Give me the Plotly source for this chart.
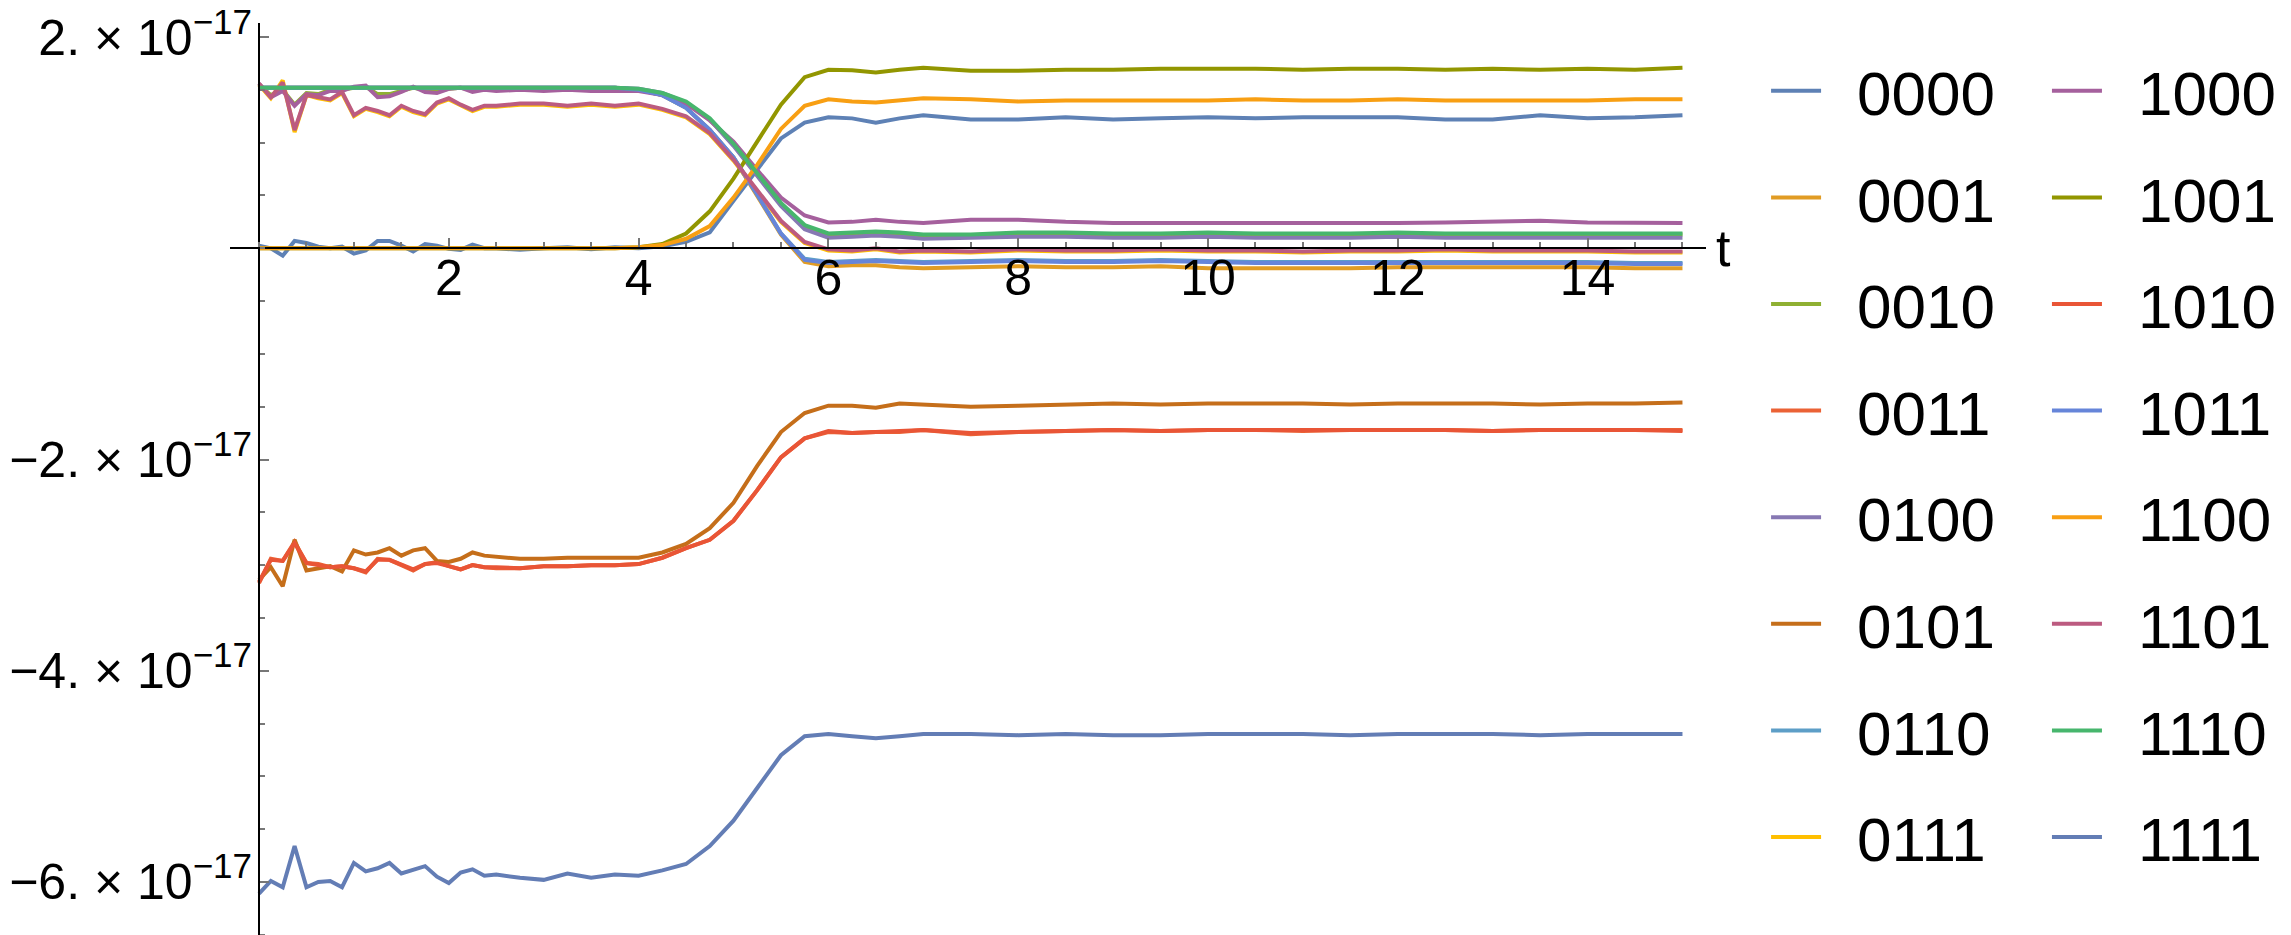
import plotly.graph_objects as go

# sample times
t = [0, 0.125, 0.25, 0.375, 0.5, 0.625, 0.75, 0.875, 1.0, 1.125, 1.25, 1.375, 1.5, 1.625,
     1.75, 1.875, 2.0, 2.125, 2.25, 2.375, 2.5,
     2.75, 3.0, 3.25, 3.5, 3.75, 4.0, 4.25, 4.5, 4.75, 5.0, 5.25, 5.5, 5.75, 6.0, 6.25,
     6.5, 6.75, 7.0,
     7.5, 8.0, 8.5, 9.0, 9.5, 10.0, 10.5, 11.0, 11.5, 12.0, 12.5, 13.0, 13.5, 14.0, 14.5, 15.0]

# values in units of 1e-17
s0000 = [0.025, 0.0, -0.07, 0.07, 0.05, 0.015, 0.0, 0.015, -0.05, -0.02, 0.07, 0.07, 0.025, -0.03,
         0.04, 0.025, -0.005, -0.015, 0.035, 0.0, 0.0,
         -0.015, 0.0, 0.01, -0.01, 0.01, 0.0, 0.02, 0.06, 0.15, 0.45, 0.74, 1.04, 1.19, 1.24, 1.23,
         1.19, 1.23, 1.26,
         1.22, 1.22, 1.24, 1.22, 1.23, 1.24, 1.23, 1.24, 1.24, 1.24, 1.22, 1.22, 1.26, 1.23, 1.24, 1.26]
s0001 = [1.52, 1.52, 1.52, 1.52, 1.52, 1.52, 1.52, 1.52, 1.52, 1.52, 1.52, 1.52, 1.52, 1.52,
         1.52, 1.52, 1.52, 1.52, 1.52, 1.52, 1.52,
         1.52, 1.52, 1.52, 1.52, 1.52, 1.50, 1.45, 1.33, 1.12, 0.86, 0.50, 0.13, -0.13, -0.17, -0.16,
         -0.16, -0.18, -0.19,
         -0.18, -0.17, -0.18, -0.18, -0.17, -0.19, -0.19, -0.19, -0.19, -0.18, -0.18, -0.18, -0.18,
         -0.18, -0.19, -0.19]
s0010 = [1.55, 1.45, 1.50, 1.36, 1.47, 1.46, 1.50, 1.50, 1.52, 1.53, 1.46, 1.46, 1.49, 1.52,
         1.50, 1.49, 1.51, 1.52, 1.50, 1.51, 1.50,
         1.51, 1.51, 1.51, 1.51, 1.51, 1.50, 1.46, 1.38, 1.22, 0.98, 0.70, 0.42, 0.21, 0.13, 0.14,
         0.15, 0.14, 0.12,
         0.12, 0.14, 0.14, 0.13, 0.13, 0.14, 0.13, 0.13, 0.13, 0.14, 0.13, 0.13, 0.13, 0.13, 0.13, 0.13]
s0011 = [-3.17, -2.94, -2.96, -2.78, -2.98, -2.99, -3.02, -3.01, -3.03, -3.07, -2.94, -2.95, -3.00,
         -3.05, -2.99, -2.97, -3.01, -3.04, -3.00, -3.02, -3.03,
         -3.03, -3.01, -3.01, -3.00, -3.00, -2.99, -2.93, -2.84, -2.76, -2.58, -2.29, -1.98, -1.80,
         -1.74, -1.75, -1.74, -1.74, -1.72,
         -1.76, -1.74, -1.73, -1.72, -1.73, -1.72, -1.72, -1.73, -1.72, -1.72, -1.72, -1.73, -1.72,
         -1.72, -1.72, -1.72]
s0100 = [1.52, 1.52, 1.52, 1.52, 1.52, 1.52, 1.52, 1.52, 1.52, 1.52, 1.52, 1.52, 1.52, 1.52,
         1.52, 1.52, 1.52, 1.52, 1.52, 1.52, 1.52,
         1.52, 1.52, 1.52, 1.52, 1.52, 1.51, 1.47, 1.38, 1.22, 0.97, 0.68, 0.40, 0.18, 0.10, 0.11,
         0.12, 0.11, 0.09,
         0.10, 0.11, 0.11, 0.10, 0.10, 0.11, 0.10, 0.10, 0.10, 0.11, 0.10, 0.10, 0.10, 0.10, 0.10, 0.10]
s0101 = [-3.14, -3.02, -3.20, -2.76, -3.05, -3.03, -3.01, -3.06, -2.86, -2.90, -2.88, -2.84, -2.91,
         -2.86, -2.84, -2.96, -2.97, -2.94, -2.88, -2.91, -2.92,
         -2.94, -2.94, -2.93, -2.93, -2.93, -2.93, -2.88, -2.80, -2.65, -2.41, -2.06, -1.74, -1.56,
         -1.49, -1.49, -1.51, -1.47, -1.48,
         -1.50, -1.49, -1.48, -1.47, -1.48, -1.47, -1.47, -1.47, -1.48, -1.47, -1.47, -1.47, -1.48,
         -1.47, -1.47, -1.46]
s0110 = [1.52, 1.52, 1.52, 1.52, 1.52, 1.52, 1.52, 1.52, 1.52, 1.52, 1.52, 1.52, 1.52, 1.52,
         1.52, 1.52, 1.52, 1.52, 1.52, 1.52, 1.52,
         1.52, 1.52, 1.52, 1.52, 1.52, 1.50, 1.45, 1.33, 1.12, 0.86, 0.51, 0.14, -0.10, -0.13, -0.12,
         -0.11, -0.12, -0.13,
         -0.12, -0.11, -0.12, -0.12, -0.11, -0.12, -0.13, -0.13, -0.13, -0.13, -0.13, -0.13, -0.13,
         -0.13, -0.14, -0.14]
s0111 = [1.55, 1.42, 1.59, 1.10, 1.45, 1.42, 1.40, 1.47, 1.25, 1.32, 1.29, 1.25, 1.34, 1.29,
         1.26, 1.37, 1.41, 1.35, 1.30, 1.34, 1.34,
         1.36, 1.36, 1.34, 1.36, 1.34, 1.36, 1.31, 1.24, 1.08, 0.83, 0.54, 0.25, 0.05, -0.02, -0.03,
         -0.01, -0.04, -0.03,
         -0.04, -0.02, -0.03, -0.03, -0.02, -0.03, -0.03, -0.04, -0.03, -0.03, -0.02, -0.03, -0.03,
         -0.03, -0.04, -0.04]
s1000 = [1.56, 1.43, 1.49, 1.35, 1.46, 1.45, 1.49, 1.49, 1.53, 1.54, 1.43, 1.44, 1.48, 1.53,
         1.48, 1.47, 1.51, 1.52, 1.48, 1.50, 1.49,
         1.50, 1.49, 1.50, 1.49, 1.49, 1.49, 1.45, 1.37, 1.21, 1.01, 0.74, 0.48, 0.31, 0.245, 0.25,
         0.27, 0.25, 0.24,
         0.27, 0.27, 0.25, 0.24, 0.24, 0.24, 0.235, 0.24, 0.24, 0.24, 0.245, 0.25, 0.26, 0.245, 0.24, 0.24]
s1001 = [0.0, 0.0, 0.0, 0.0, 0.0, 0.0, 0.0, 0.0, 0.0, 0.0, 0.0, 0.0, 0.0, 0.0,
         0.0, 0.0, 0.0, 0.0, 0.0, 0.0, 0.0,
         0.0, 0.0, 0.0, 0.0, 0.0, 0.01, 0.04, 0.14, 0.35, 0.66, 1.01, 1.36, 1.62, 1.69, 1.685,
         1.665, 1.69, 1.71,
         1.68, 1.68, 1.69, 1.69, 1.70, 1.70, 1.70, 1.69, 1.70, 1.70, 1.69, 1.70, 1.69, 1.70, 1.69, 1.71]
s1010 = [-3.16, -2.95, -2.96, -2.79, -2.98, -3.00, -3.02, -3.01, -3.03, -3.06, -2.95, -2.95, -3.00,
         -3.04, -2.99, -2.98, -3.01, -3.04, -3.00, -3.02, -3.02,
         -3.03, -3.01, -3.01, -3.00, -3.00, -2.99, -2.93, -2.84, -2.76, -2.58, -2.29, -1.98, -1.80,
         -1.73, -1.75, -1.74, -1.73, -1.72,
         -1.75, -1.74, -1.73, -1.72, -1.73, -1.72, -1.72, -1.72, -1.72, -1.72, -1.72, -1.73, -1.72,
         -1.72, -1.72, -1.73]
s1011 = [1.52, 1.52, 1.52, 1.52, 1.52, 1.52, 1.52, 1.52, 1.52, 1.52, 1.52, 1.52, 1.52, 1.52,
         1.52, 1.52, 1.52, 1.52, 1.52, 1.52, 1.52,
         1.52, 1.52, 1.52, 1.52, 1.52, 1.50, 1.45, 1.33, 1.12, 0.86, 0.51, 0.14, -0.11, -0.14, -0.13,
         -0.12, -0.13, -0.14,
         -0.13, -0.12, -0.13, -0.13, -0.12, -0.13, -0.14, -0.14, -0.14, -0.14, -0.14, -0.14, -0.14,
         -0.14, -0.15, -0.15]
s1100 = [0.0, 0.0, 0.0, 0.0, 0.0, 0.0, 0.0, 0.0, 0.0, 0.0, 0.0, 0.0, 0.0, 0.0,
         0.0, 0.0, 0.0, 0.0, 0.0, 0.0, 0.0,
         0.0, 0.0, 0.0, 0.0, 0.0, 0.01, 0.03, 0.09, 0.21, 0.48, 0.79, 1.13, 1.35, 1.41, 1.39,
         1.38, 1.40, 1.42,
         1.41, 1.39, 1.40, 1.40, 1.40, 1.40, 1.41, 1.40, 1.40, 1.41, 1.40, 1.40, 1.40, 1.40, 1.41, 1.41]
s1101 = [1.56, 1.43, 1.57, 1.12, 1.45, 1.43, 1.41, 1.48, 1.26, 1.33, 1.30, 1.26, 1.35, 1.30,
         1.27, 1.38, 1.42, 1.36, 1.31, 1.35, 1.35,
         1.37, 1.37, 1.35, 1.37, 1.35, 1.37, 1.32, 1.25, 1.09, 0.84, 0.55, 0.26, 0.06, -0.01, -0.02,
         0.0, -0.03, -0.02,
         -0.03, -0.01, -0.02, -0.02, -0.01, -0.02, -0.02, -0.03, -0.02, -0.02, -0.01, -0.02, -0.02,
         -0.02, -0.03, -0.03]
s1110 = [1.52, 1.52, 1.52, 1.52, 1.52, 1.52, 1.52, 1.52, 1.52, 1.52, 1.52, 1.52, 1.52, 1.52,
         1.52, 1.52, 1.52, 1.52, 1.52, 1.52, 1.52,
         1.52, 1.52, 1.52, 1.52, 1.52, 1.51, 1.47, 1.39, 1.23, 0.99, 0.71, 0.43, 0.22, 0.14, 0.15,
         0.16, 0.15, 0.13,
         0.13, 0.15, 0.15, 0.14, 0.14, 0.15, 0.14, 0.14, 0.14, 0.15, 0.14, 0.14, 0.14, 0.14, 0.14, 0.14]
s1111 = [-6.11, -5.99, -6.05, -5.66, -6.05, -6.00, -5.99, -6.05, -5.82, -5.90, -5.87, -5.82, -5.92,
         -5.88, -5.85, -5.95, -6.01, -5.91, -5.88, -5.94, -5.93,
         -5.96, -5.98, -5.92, -5.96, -5.93, -5.94, -5.89, -5.83, -5.66, -5.42, -5.11, -4.80, -4.62,
         -4.60, -4.62, -4.64, -4.62, -4.60,
         -4.60, -4.61, -4.60, -4.61, -4.61, -4.60, -4.60, -4.60, -4.61, -4.60, -4.60, -4.60, -4.61,
         -4.60, -4.60, -4.60]

names = ['0000', '0001', '0010', '0011', '0100', '0101', '0110', '0111',
         '1000', '1001', '1010', '1011', '1100', '1101', '1110', '1111']
series = [s0000, s0001, s0010, s0011, s0100, s0101, s0110, s0111,
          s1000, s1001, s1010, s1011, s1100, s1101, s1110, s1111]
colors = ['#5E81B5', '#E19C24', '#8FB032', '#EB6235', '#8778B3', '#C56E1A', '#5D9EC7', '#FFBF00',
          '#A5609D', '#929600', '#E95536', '#6685D9', '#F89F13', '#BC5B80', '#47B66D', '#637DB5']

x_ticks = [2, 4, 6, 8, 10, 12, 14]
y_ticks = [2, -2, -4, -6]
y_labels = ['2.\u00a0\u00d7\u00a010<sup>\u221217</sup>', '\u22122.\u00a0\u00d7\u00a010<sup>\u221217</sup>',
            '\u22124.\u00a0\u00d7\u00a010<sup>\u221217</sup>', '\u22126.\u00a0\u00d7\u00a010<sup>\u221217</sup>']

FONT = 'Liberation Sans, Arial, sans-serif'

fig = go.Figure()
for i, (nm, vals) in enumerate(zip(names, series)):
    fig.add_trace(go.Scatter(x=t, y=vals, mode='lines', name='\u2002' + nm,
                             line=dict(color=colors[i], width=4),
                             legend='legend' if i < 8 else 'legend2',
                             legendgroup=nm))

# ranges chosen so the axes cross at the origin like the original
x_rng = [-0.3056, 15.248]
y_rng = [-6.521, 2.133]
x_pos = (0 - x_rng[0]) / (x_rng[1] - x_rng[0])
y_pos = (0 - y_rng[0]) / (y_rng[1] - y_rng[0])

legend_style = dict(font=dict(size=62, family=FONT, color='black'), itemwidth=50,
                    tracegroupgap=23, bgcolor='rgba(0,0,0,0)', yanchor='top', xanchor='left')

tick_font = dict(size=50, family=FONT, color='black')

fig.update_layout(
    width=2291, height=935,
    margin=dict(l=222, r=593, t=15, b=6, autoexpand=False),
    plot_bgcolor='white', paper_bgcolor='white',
    font=dict(family=FONT, color='black'),
    showlegend=True,
    legend=dict(x=1.0407, y=0.977, **legend_style),
    legend2=dict(x=1.231, y=0.977, **legend_style),
    xaxis=dict(range=x_rng, anchor='free', position=y_pos, showline=True, linecolor='black',
               linewidth=2, showgrid=False, zeroline=False, tickmode='array', tickvals=x_ticks,
               ticks='inside', ticklen=9, tickwidth=2, tickcolor='#777',
               tickfont=tick_font, ticklabelstandoff=-14, ticklabeloverflow='allow',
               minor=dict(tickmode='linear', tick0=0, dtick=0.5, ticks='inside', ticklen=5,
                          tickwidth=2, tickcolor='#777')),
    yaxis=dict(range=y_rng, anchor='free', position=x_pos, showline=True, linecolor='black',
               linewidth=2, showgrid=False, zeroline=False, tickmode='array', tickvals=y_ticks,
               ticktext=y_labels, ticks='inside', ticklen=9, tickwidth=2, tickcolor='#777',
               tickfont=tick_font, ticklabelstandoff=-4, ticklabeloverflow='allow',
               minor=dict(tickmode='linear', tick0=0, dtick=0.5, ticks='inside', ticklen=5,
                          tickwidth=2, tickcolor='#777')),
)

fig.add_annotation(text='t', xref='paper', yref='y', x=1.0183, y=0, showarrow=False,
                   font=dict(size=52, family=FONT, color='black'))

fig.write_html("out.html")
